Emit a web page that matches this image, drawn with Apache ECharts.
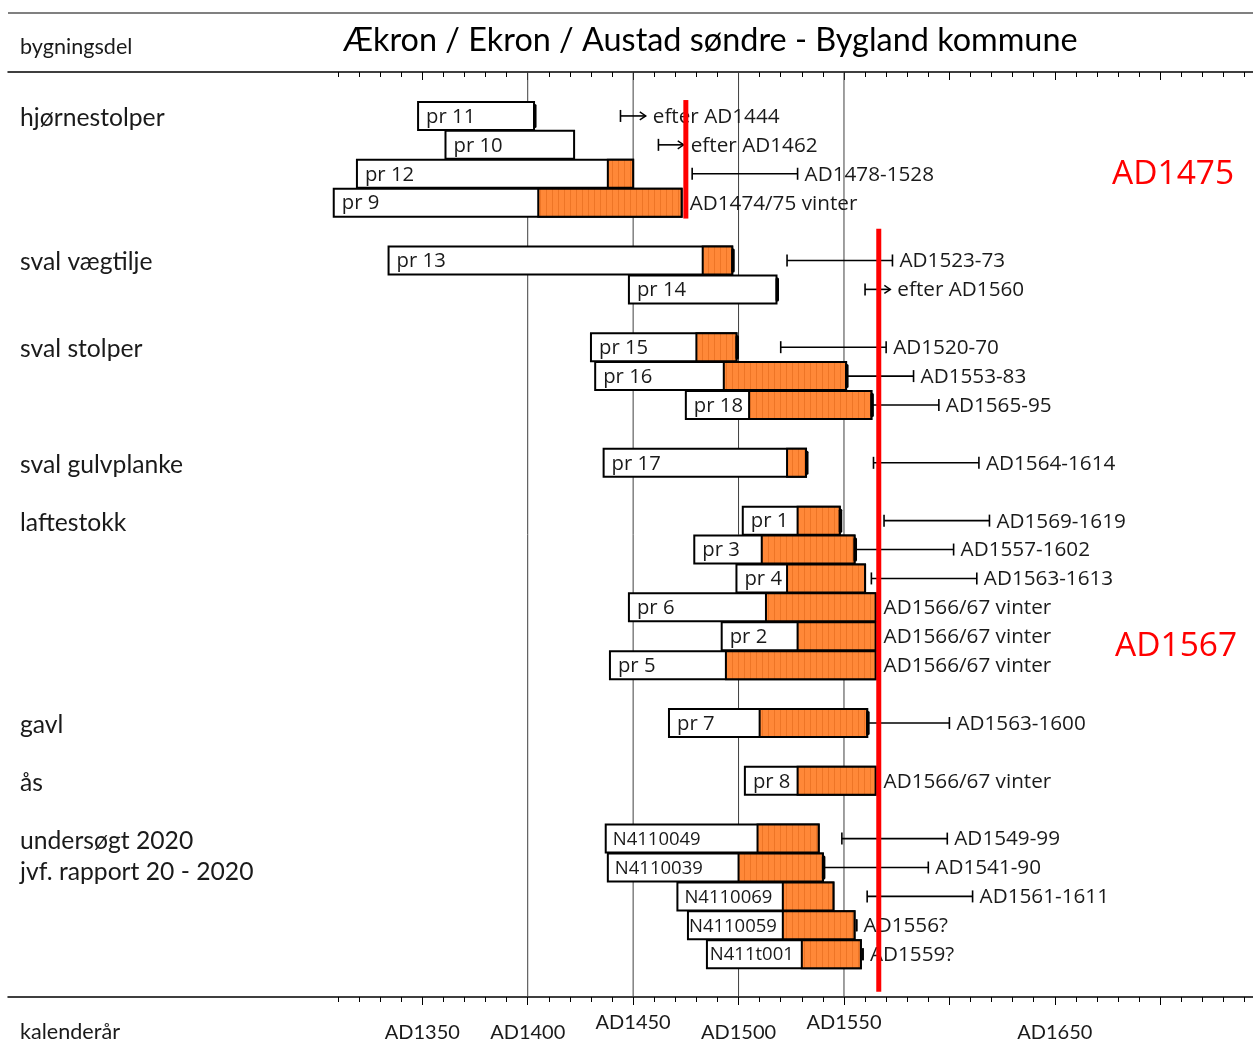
<!DOCTYPE html>
<html>
<head>
<meta charset="utf-8">
<script src="https://cdn.jsdelivr.net/npm/echarts@6/dist/echarts.min.js"></script>
<style>html,body{margin:0;padding:0;background:#fff}#c{width:1253px;height:1050px}</style>
</head>
<body>
<div id="c"></div>
<script>
// ---------- data ----------
const groupNames = ['hjørnestolper','sval vægtilje','sval stolper','sval gulvplanke','laftestokk','gavl','ås','undersøgt 2020\njvf. rapport 20 - 2020'];
const groupRows  = [0, 5, 8, 12, 14, 21, 23, 25];

const sampleNames = ['pr 11','pr 10','pr 12','pr 9','pr 13','pr 14','pr 15','pr 16','pr 18','pr 17','pr 1','pr 3','pr 4','pr 6','pr 2','pr 5','pr 7','pr 8','N4110049','N4110039','N4110069','N4110059','N411t001'];
const sampleRows  = [0,1,2,3,5,6,8,9,10,12,14,15,16,17,18,19,21,23,25,26,27,28,29];
const firstYear   = [1348,1361,1319,1308,1334,1448,1430,1432,1475,1436,1502,1479,1499,1448,1492,1439,1467,1503,1437,1438,1471,1476,1485];
const sapStart    = [null,null,1438,1405,1483,null,1480,1493,1505,1523,1528,1511,1523,1513,1528,1494,1510,1528,1509,1500,1521,1521,1530];
const lastYear    = [1403,1422,1450,1473,1497,1518,1499,1551,1563,1532,1548,1555,1560,1565,1565,1565,1561,1565,1538,1540,1545,1555,1558];
const barkEdge    = [1,0,0,0,1,1,1,1,1,1,1,1,0,0,0,0,1,0,0,1,0,0,0];
const rangeFrom   = [1444,1462,1478,null,1523,1560,1520,1553,1565,1564,1569,1557,1563,null,null,null,1563,null,1549,1541,1561,1556,1559];
const rangeTo     = [null,null,1528,null,1573,null,1570,1583,1595,1614,1619,1602,1613,null,null,null,1600,null,1599,1590,1611,1556,1559];
const datingText  = ['efter AD1444','efter AD1462','AD1478-1528','AD1474/75 vinter','AD1523-73','efter AD1560','AD1520-70','AD1553-83','AD1565-95','AD1564-1614','AD1569-1619','AD1557-1602','AD1563-1613','AD1566/67 vinter','AD1566/67 vinter','AD1566/67 vinter','AD1563-1600','AD1566/67 vinter','AD1549-99','AD1541-90','AD1561-1611','AD1556?','AD1559?'];

const felledYears   = [1475, 1566.5];
const felledRowFrom = [-0.55, 3.9];
const felledRowTo   = [3.55, 30.3];
const felledLabels  = ['AD1475', 'AD1567'];

const gridYears       = [1400, 1450, 1500, 1550];
const labelYearsLow   = [1350, 1400, 1500, 1650];
const labelYearsHigh  = [1450, 1550];
const minorTickYears = []; for (let y = 1310; y <= 1740; y += 10) minorTickYears.push(y);
const majorTickYears = [1350, 1400, 1450, 1500, 1550, 1600, 1650, 1700];

// ---------- styling helpers ----------
const FONT_A = 'Lato';
const FONT_B = '"Open Sans"';
const pc = document.createElement('canvas'); pc.width = 6; pc.height = 4;
const pctx = pc.getContext('2d');
pctx.fillStyle = '#FF8838'; pctx.fillRect(0,0,6,4);
pctx.fillStyle = '#EE7526'; pctx.fillRect(0,0,1,4);
const orangeFill = { image: pc, repeat: 'repeat' };

const chart = echarts.init(document.getElementById('c'), null, { renderer: 'canvas' });

function renderSample(params, api) {
  const i = params.dataIndex;
  const row = sampleRows[i];
  const p0 = api.coord([firstYear[i], row]);
  const p1 = api.coord([lastYear[i], row]);
  const h = 28;
  const top = p0[1] - h / 2;
  const cy = p0[1];
  const ch = [];
  ch.push({ type: 'rect', shape: { x: p0[0], y: top, width: p1[0] - p0[0], height: h },
            style: { fill: '#fff', stroke: '#000', lineWidth: 2 } });
  let ps = null;
  if (sapStart[i] != null) {
    ps = api.coord([sapStart[i], row]);
    ch.push({ type: 'rect', shape: { x: ps[0], y: top, width: p1[0] - ps[0], height: h },
              style: { fill: orangeFill, stroke: '#000', lineWidth: 2 } });
  }
  if (barkEdge[i]) {
    ch.push({ type: 'rect', shape: { x: p1[0] - 1, y: top + 2, width: 3.5, height: h - 4, r: 1.5 },
              style: { fill: '#000' } });
  }
  const isN = sampleNames[i].charAt(0) === 'N';
  const fs = isN ? 18.5 : 20.3;
  let lx = p0[0] + (isN ? 7 : 8);
  if (isN && ps) {
    const w = echarts.format.getTextRect ? echarts.format.getTextRect(sampleNames[i], fs + 'px ' + FONT_B).width : 0;
    if (w && lx + w > ps[0] - 6) lx = Math.max(p0[0] + 1, ps[0] - 8 - w);
  }
  ch.push({ type: 'text', style: { text: sampleNames[i], x: lx, y: cy + 1,
            verticalAlign: 'middle', align: 'left', fontFamily: FONT_B, fontSize: fs, fill: '#1a1a1a' } });

  let textX;
  const ls = { stroke: '#000', lineWidth: 1.6 };
  const cap = (x) => ({ type: 'line', shape: { x1: x, y1: cy - 6, x2: x, y2: cy + 6 }, style: ls });
  if (rangeFrom[i] != null && rangeTo[i] == null) {
    const a = api.coord([rangeFrom[i], row])[0];
    const tip = api.coord([rangeFrom[i] + 12, row])[0];
    ch.push(cap(a));
    ch.push({ type: 'line', shape: { x1: a, y1: cy, x2: tip, y2: cy }, style: ls });
    ch.push({ type: 'polyline', shape: { points: [[tip - 6, cy - 4], [tip, cy], [tip - 6, cy + 4]] }, style: { stroke: '#000', lineWidth: 1.4, fill: null } });
    textX = tip + 7;
  } else if (rangeFrom[i] != null) {
    const a = api.coord([rangeFrom[i], row])[0];
    const b = api.coord([rangeTo[i], row])[0];
    if (rangeFrom[i] - lastYear[i] <= 2 && rangeTo[i] !== rangeFrom[i]) {
      ch.push({ type: 'line', shape: { x1: p1[0], y1: cy, x2: b, y2: cy }, style: ls });
    } else {
      ch.push(cap(a));
      if (b > a) ch.push({ type: 'line', shape: { x1: a, y1: cy, x2: b, y2: cy }, style: ls });
    }
    ch.push(cap(b));
    textX = b + 7;
  } else {
    textX = p1[0] + 8;
  }
  ch.push({ type: 'text', style: { text: datingText[i], x: textX, y: cy + 1, verticalAlign: 'middle', align: 'left',
            fontFamily: FONT_B, fontSize: 20.7, fill: '#1a1a1a' } });
  return { type: 'group', children: ch };
}

function renderGrid(params, api) {
  const v = api.value(0);
  const a = api.coord([v, -1.52]);
  const b = api.coord([v, 30.48]);
  return { type: 'line', shape: { x1: a[0], y1: a[1], x2: b[0], y2: b[1] }, style: { stroke: '#404040', lineWidth: 1 } };
}

function renderFelled(params, api) {
  const i = params.dataIndex;
  const a = api.coord([felledYears[i], felledRowFrom[i]]);
  const b = api.coord([felledYears[i], felledRowTo[i]]);
  return { type: 'line', shape: { x1: a[0], y1: a[1], x2: b[0], y2: b[1] }, style: { stroke: '#FF0000', lineWidth: 5 } };
}

function renderGroup(params, api) {
  const i = params.dataIndex;
  const p = api.coord([1160, groupRows[i]]);
  return { type: 'text', style: { text: groupNames[i], x: 20, y: p[1] - 15.5 + 2, verticalAlign: 'top', align: 'left',
           fontFamily: FONT_A, fontSize: 24.7, lineHeight: 31, fill: '#1a1a1a' } };
}

const xBase = { type: 'value', min: 1153.5, max: 1744, splitLine: { show: false } };
const lblStyle = { fontFamily: FONT_A, fontSize: 20, color: '#1a1a1a', formatter: v => 'AD' + v };

chart.setOption({
  animation: false,
  backgroundColor: '#fff',
  title: { text: 'Ækron / Ekron / Austad søndre - Bygland kommune', left: 343, top: 25, padding: 0,
           textStyle: { fontFamily: FONT_A, fontSize: 32.4, fontWeight: 'normal', color: '#000' } },
  grid: { left: 8, right: 0, top: 72, bottom: 53 },
  xAxis: [
    Object.assign({}, xBase, { position: 'bottom',
      axisLine: { show: true, onZero: false, lineStyle: { color: '#000', width: 1.5 } },
      axisTick: { show: true, customValues: minorTickYears, length: 5, lineStyle: { color: '#000' } },
      axisLabel: Object.assign({ show: true, customValues: labelYearsHigh, margin: 16 }, lblStyle) }),
    Object.assign({}, xBase, { position: 'bottom',
      axisLine: { show: false, onZero: false },
      axisTick: { show: true, customValues: majorTickYears, length: 8, lineStyle: { color: '#000' } },
      axisLabel: Object.assign({ show: true, customValues: labelYearsLow, margin: 26 }, lblStyle) }),
    Object.assign({}, xBase, { position: 'top',
      axisLine: { show: true, onZero: false, lineStyle: { color: '#000', width: 1.5 } },
      axisTick: { show: true, inside: true, customValues: minorTickYears, length: 5, lineStyle: { color: '#000' } },
      axisLabel: { show: false } }),
    Object.assign({}, xBase, { position: 'top',
      axisLine: { show: false, onZero: false },
      axisTick: { show: true, inside: true, customValues: majorTickYears, length: 8, lineStyle: { color: '#000' } },
      axisLabel: { show: false } })
  ],
  yAxis: { type: 'value', inverse: true, min: -1.52, max: 30.48, show: false },
  graphic: [
    { type: 'line', shape: { x1: 8, y1: 13, x2: 1253, y2: 13 }, style: { stroke: '#808080', lineWidth: 2 } },
    { type: 'text', x: 20, y: 47, style: { text: 'bygningsdel', fontFamily: FONT_A, fontSize: 21.6, fill: '#1a1a1a', verticalAlign: 'middle' } },
    { type: 'text', x: 20, y: 1032, style: { text: 'kalenderår', fontFamily: FONT_A, fontSize: 21.6, fill: '#1a1a1a', verticalAlign: 'middle' } },
    { type: 'text', x: 1112, y: 174, style: { text: felledLabels[0], fontFamily: FONT_B, fontSize: 33.5, fill: '#FF0000', verticalAlign: 'middle' } },
    { type: 'text', x: 1115, y: 646, style: { text: felledLabels[1], fontFamily: FONT_B, fontSize: 33.5, fill: '#FF0000', verticalAlign: 'middle' } }
  ],
  series: [
    { type: 'custom', z: 1, silent: true, renderItem: renderGrid, data: gridYears.map(v => [v]), encode: { x: 0 } },
    { type: 'custom', z: 3, silent: true, renderItem: renderSample,
      data: sampleRows.map((r, i) => [firstYear[i], r, lastYear[i]]), encode: { x: [0, 2], y: 1 } },
    { type: 'custom', z: 5, silent: true, renderItem: renderFelled,
      data: felledYears.map((v, i) => [v, felledRowFrom[i], felledRowTo[i]]), encode: { x: 0, y: [1, 2] } },
    { type: 'custom', z: 3, silent: true, renderItem: renderGroup,
      data: groupRows.map(r => [1160, r]), encode: { x: 0, y: 1 } }
  ]
});
</script>
</body>
</html>
